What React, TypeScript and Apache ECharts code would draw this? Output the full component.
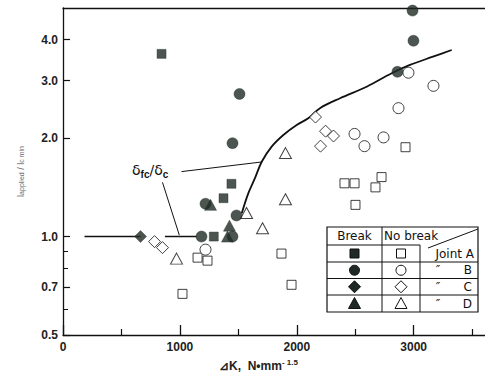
import React, { useEffect, useRef } from 'react';
import * as echarts from 'echarts';

// tick values
const xTickMajor = [0, 1000, 2000, 3000];
const xTickMinor = [500, 1500, 2500, 3500];
const yTickMajor = [0.5, 0.7, 1.0, 2.0, 3.0, 4.0];
const yTickMinor = [0.6, 0.8, 0.9];

// Break (filled) data: [ΔK, ratio]
const breakA = [[843, 3.62], [1441, 1.45], [1373, 1.31], [1290, 1.0]];
const breakB = [[1219, 1.26], [1185, 1.0], [1484, 1.16], [1450, 1.93], [1510, 2.73], [2990, 4.91], [2998, 3.97], [2861, 3.19], [1450, 1.0]];
const breakC = [[663, 1.0]];
const breakD = [[1262, 1.25], [1424, 1.08], [1407, 1.0]];

// No break (open) data
const noBreakA = [[1022, 0.668], [1151, 0.862], [1236, 0.844], [1869, 0.887], [1955, 0.712], [2502, 1.25], [2408, 1.455], [2494, 1.455], [2673, 1.414], [2725, 1.52], [2930, 1.876]];
const noBreakB = [[1219, 0.912], [2494, 2.06], [2579, 1.89], [2742, 2.01], [2870, 2.47], [2955, 3.17], [3169, 2.89]];
const noBreakC = [[783, 0.965], [851, 0.925], [2160, 2.32], [2246, 2.10], [2314, 2.03], [2203, 1.89]];
const noBreakD = [[971, 0.856], [1903, 1.80], [1903, 1.30], [1570, 1.18], [1707, 1.06]];

// δfc/δc curve and level line
const curve = [[1529, 1.178], [1585, 1.356], [1642, 1.508], [1700, 1.694], [1785, 1.884], [1885, 2.045], [1999, 2.194], [2098, 2.30], [2198, 2.47], [2370, 2.648], [2598, 2.873], [2812, 3.158], [2968, 3.348], [3165, 3.55], [3325, 3.72]];
const levelLineLeft = [[184, 1.0], [663, 1.0]];
const levelLineRight = [[872, 1.0], [1142, 1.0]];
const arrow1 = [[1014, 1.58], [1695, 1.69]];
const arrow2 = [[851, 1.465], [995, 1.01]];

const jointLabels = ['Joint A', 'B', 'C', 'D'];

const lg = (v: number) => Math.log10(v);
const toXY = (pts: number[][]) => pts.map(([x, y]) => [x, lg(y)]);

const DARK = '#1f2a24';
const INK = '#111';

export default function App() {
  const ref = useRef<HTMLDivElement>(null);
  useEffect(() => {
    if (!ref.current) return;
    const chart = echarts.init(ref.current, null, { renderer: 'svg' });

    const filled = (data: number[][], symbol: string, size: any) => ({
      type: 'scatter', data: toXY(data), symbol, symbolSize: size, z: 5,
      itemStyle: { color: DARK, borderColor: DARK, borderWidth: 0.5 },
    });
    const open = (data: number[][], symbol: string, size: any) => ({
      type: 'scatter', data: toXY(data), symbol, symbolSize: size, z: 4,
      itemStyle: { color: '#fff', borderColor: INK, borderWidth: 1 },
    });

    // legend table geometry
    const L = 327, R = 478, T = 227, B = 312;
    const c1 = 382, c2 = 420, hb = 245;
    const rows = [245, 262, 278.5, 295, 312];
    const cx1 = (L + c1) / 2, cx2 = (c1 + c2) / 2;
    const rc = rows.slice(0, 4).map((r, i) => (r + rows[i + 1]) / 2);
    const ln = (x1: number, y1: number, x2: number, y2: number) => ({
      type: 'line', shape: { x1, y1, x2, y2 }, style: { stroke: INK, lineWidth: 1 },
    });
    const tri = (cx: number, cy: number, fill: string) => ({
      type: 'polygon', shape: { points: [[cx, cy - 6], [cx + 6, cy + 5], [cx - 6, cy + 5]] },
      style: { fill, stroke: INK, lineWidth: 1 },
    });
    const dia = (cx: number, cy: number, fill: string) => ({
      type: 'polygon', shape: { points: [[cx, cy - 6], [cx + 6, cy], [cx, cy + 6], [cx - 6, cy]] },
      style: { fill, stroke: INK, lineWidth: 1 },
    });
    const sq = (cx: number, cy: number, fill: string) => ({
      type: 'rect', shape: { x: cx - 4.5, y: cy - 4.5, width: 9, height: 9 },
      style: { fill, stroke: INK, lineWidth: 1 },
    });
    const cir = (cx: number, cy: number, fill: string) => ({
      type: 'circle', shape: { cx, cy, r: 5 }, style: { fill, stroke: INK, lineWidth: 1 },
    });
    const lgFont = { fontFamily: 'DejaVu Sans', fontSize: 12, fill: INK };

    const legendEls: any[] = [
      { type: 'rect', shape: { x: L, y: T, width: R - L, height: B - T }, style: { fill: '#fff', stroke: INK, lineWidth: 1.2 } },
      ln(c1, T, c1, B),
      ln(c2, hb, c2, B),
      ln(L, hb, c2, hb),
      ln(c2 + 8, hb + 3, R, T + 2),
      ...rows.slice(1, 4).map((y) => ln(L, y, R, y)),
      { type: 'text', x: cx1, y: (T + hb) / 2, style: { ...lgFont, text: 'Break', align: 'center', verticalAlign: 'middle' } },
      { type: 'text', x: c1 + 2, y: (T + hb) / 2, style: { ...lgFont, text: 'No break', align: 'left', verticalAlign: 'middle' } },
      sq(cx1, rc[0], DARK), sq(cx2, rc[0], '#fff'),
      cir(cx1, rc[1], DARK), cir(cx2, rc[1], '#fff'),
      dia(cx1, rc[2], DARK), dia(cx2, rc[2], '#fff'),
      tri(cx1, rc[3], DARK), tri(cx2, rc[3], '#fff'),
      { type: 'text', x: R - 4, y: rc[0], style: { ...lgFont, text: jointLabels[0], align: 'right', verticalAlign: 'middle' } },
      ...[1, 2, 3].map((i) => ({ type: 'text', x: R - 6, y: rc[i], style: { ...lgFont, text: jointLabels[i], align: 'right', verticalAlign: 'middle' } })),
      ...[1, 2, 3].map((i) => ({ type: 'text', x: 438, y: rc[i], style: { ...lgFont, fontSize: 12, fontStyle: 'italic', text: '″', align: 'center', verticalAlign: 'middle' } })),
    ];

    const levelSeries = (data: number[][], extra: any = {}) => ({
      type: 'line', data: toXY(data), symbol: 'none', z: 2,
      lineStyle: { color: INK, width: 1.5 }, ...extra,
    });

    const option: any = {
      animation: false,
      backgroundColor: '#fff',
      grid: { left: 63, right: 0, top: 8, bottom: 43 },
      xAxis: [
        {
          type: 'value', min: 0, max: 3610, position: 'bottom',
          axisLine: { show: true, onZero: false, lineStyle: { color: INK, width: 1.3 } },
          axisTick: { show: true, inside: true, length: 10, customValues: xTickMajor, lineStyle: { color: INK, width: 1.3 } },
          axisLabel: { customValues: xTickMajor, formatter: (v: number) => String(v), color: '#222', fontFamily: 'Liberation Sans', fontWeight: 'bold', fontSize: 12, margin: 6 },
          splitLine: { show: false },
        },
        {
          type: 'value', min: 0, max: 3610, position: 'bottom',
          axisLine: { show: false, onZero: false },
          axisTick: { show: true, inside: true, length: 6, customValues: xTickMinor, lineStyle: { color: INK, width: 1.2 } },
          axisLabel: { show: false },
          splitLine: { show: false },
        },
        {
          type: 'value', min: 0, max: 3610, position: 'top',
          axisLine: { show: true, onZero: false, lineStyle: { color: INK, width: 1.3 } },
          axisTick: { show: false }, axisLabel: { show: false }, splitLine: { show: false },
        },
      ],
      yAxis: [
        {
          type: 'value', min: lg(0.5), max: lg(5), position: 'left',
          name: 'l{s|applied} / l{s|c min}', nameLocation: 'middle', nameGap: 38, nameRotate: 90,
          nameTextStyle: { color: '#666', fontSize: 9, fontFamily: 'Liberation Sans', rich: { s: { fontSize: 7, color: '#666', verticalAlign: 'bottom', lineHeight: 8 } } },
          axisLine: { show: true, onZero: false, lineStyle: { color: INK, width: 1.3 } },
          axisTick: { show: true, inside: true, length: 7, customValues: yTickMajor.map(lg), lineStyle: { color: INK, width: 1.2 } },
          axisLabel: {
            customValues: yTickMajor.map(lg), color: '#222', fontFamily: 'Liberation Sans', fontWeight: 'bold', fontSize: 12, margin: 5,
            formatter: (v: number) => Math.pow(10, v).toFixed(1),
          },
          splitLine: { show: false },
        },
        {
          type: 'value', min: lg(0.5), max: lg(5), position: 'left',
          axisLine: { show: false, onZero: false },
          axisTick: { show: true, inside: true, length: 5, customValues: yTickMinor.map(lg), lineStyle: { color: INK, width: 1 } },
          axisLabel: { show: false }, splitLine: { show: false },
        },
      ],
      series: [
        {
          type: 'line', data: toXY(curve), smooth: 0.35, symbol: 'none', z: 2,
          lineStyle: { color: INK, width: 1.8 },
        },
        levelSeries(levelLineLeft),
        levelSeries(levelLineRight, {
          markLine: {
            silent: true, symbol: ['none', 'arrow'], symbolSize: [0, 6], label: { show: false },
            lineStyle: { color: INK, width: 1, type: 'solid' },
            data: [
              [{ coord: [arrow1[0][0], lg(arrow1[0][1])] }, { coord: [arrow1[1][0], lg(arrow1[1][1])] }],
              [{ coord: [arrow2[0][0], lg(arrow2[0][1])] }, { coord: [arrow2[1][0], lg(arrow2[1][1])] }],
            ],
          },
        }),
        open(noBreakA, 'rect', 9),
        open(noBreakB, 'circle', 11),
        open(noBreakC, 'diamond', 12),
        open(noBreakD, 'triangle', [12, 11]),
        filled(breakA, 'rect', 9),
        filled(breakB, 'circle', 11),
        filled(breakC, 'diamond', 12),
        filled(breakD, 'triangle', [12, 11]),
      ],
      graphic: [
        {
          type: 'text', left: 132, top: 163,
          style: {
            text: '{d|δ}{s|fc}{d|/δ}{s|c}',
            rich: {
              d: { fontSize: 14, fontFamily: 'DejaVu Sans', fill: INK, lineHeight: 18 },
              s: { fontSize: 10, fontFamily: 'Liberation Sans', fontWeight: 'bold', fill: INK, verticalAlign: 'bottom', lineHeight: 12 },
            },
          },
        },
        {
          type: 'text', left: 219, top: 358,
          style: {
            text: '{a|⊿K,  N•mm}{p|- 1.5}',
            rich: {
              a: { fontSize: 12, fontFamily: 'Liberation Sans', fontWeight: 'bold', fill: '#222', lineHeight: 16 },
              p: { fontSize: 8, fontFamily: 'Liberation Sans', fontWeight: 'bold', fill: '#222', verticalAlign: 'top', lineHeight: 8 },
            },
          },
        },
        ...legendEls,
      ],
    };
    chart.setOption(option);
    return () => chart.dispose();
  }, []);
  return <div ref={ref} style={{ width: 485, height: 378, position: 'absolute', left: 0, top: 0 }} />;
}
